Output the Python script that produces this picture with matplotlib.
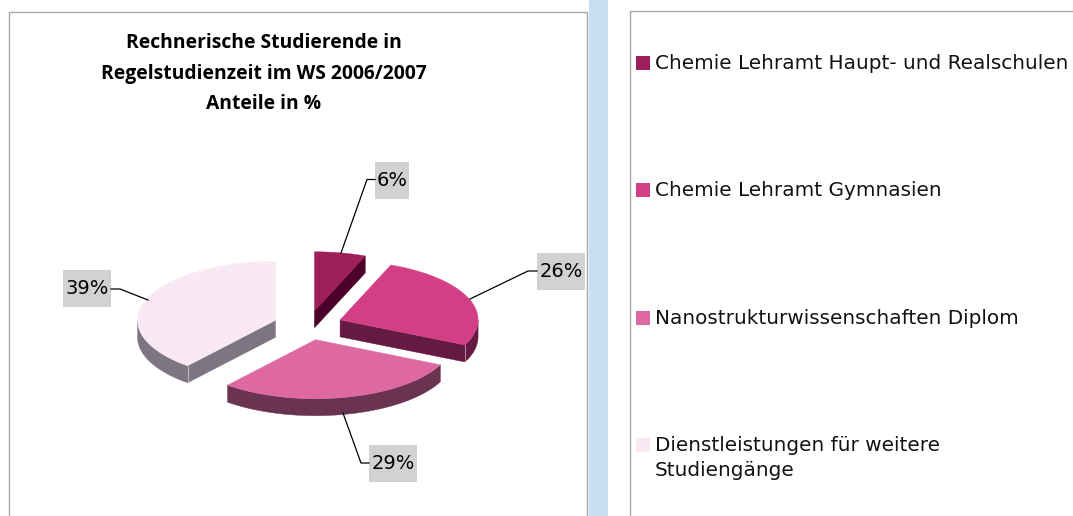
import numpy as np
import matplotlib
matplotlib.use("Agg")
import matplotlib.pyplot as plt
from matplotlib.patches import Polygon, Rectangle

# ---- data --------------------------------------------------------------
categories = [
    "Chemie Lehramt Haupt- und Realschulen",
    "Chemie Lehramt Gymnasien",
    "Nanostrukturwissenschaften Diplom",
    "Dienstleistungen für weitere\nStudiengänge",
]
shares = [6, 26, 29, 39]
title = "Rechnerische Studierende in\nRegelstudienzeit im WS 2006/2007\nAnteile in %"

top_colors = ["#9e1f5b", "#d33f84", "#de69a2", "#f9e9f3"]
side_colors = ["#4d0028", "#641a42", "#6a3351", "#7d7582"]

# ---- layout, in image pixels --------------------------------------------
W, H = 1073, 516
CX, CY = 308, 325.3
RX, RY = 138, 59
DEPTH = 17
EXPLODE = 0.25

label_boxes = [(375, 162, 34, 37), (537, 253, 48, 37), (369, 445, 48, 37), (63, 270, 48, 37)]
leaders = [
    [(341, 253), (367, 179.5), (375, 179.5)],
    [(470, 299), (528, 271), (537, 271)],
    [(343, 413), (361, 463), (369, 463)],
    [(148, 300), (120, 289), (111, 289)],
]
legend_y = [63, 190, 318, 445]

fig = plt.figure(figsize=(W / 100, H / 100), dpi=100)
ax = fig.add_axes([0, 0, 1, 1])
ax.set_xlim(0, W)
ax.set_ylim(H, 0)
ax.axis("off")

# panels
ax.add_patch(Rectangle((9, 11.5), 578, H, fc="white", ec="#a6a6aa", lw=1.0))
ax.add_patch(Rectangle((589, 0), 19, H, fc="#c9dff4", ec="none"))
ax.add_patch(Rectangle((629.5, 10.5), W, H, fc="white", ec="#a6a6aa", lw=1.0))

ax.text(264, 73.5, title, ha="center", va="center", fontsize=13.9, fontweight="bold",
        family="Open Sans", linespacing=1.7, color="black")

# ---- exploded 3d pie ----------------------------------------------------
edges = np.cumsum([0] + shares) / sum(shares) * 2 * np.pi
for i in range(len(shares)):
    a0, a1 = edges[i], edges[i + 1]
    mid = (a0 + a1) / 2
    ox = CX + EXPLODE * RX * np.sin(mid)
    oy = CY - EXPLODE * RY * np.cos(mid)
    th = np.linspace(a0, a1, 80)
    xs = np.r_[ox, ox + RX * np.sin(th)]
    ys = np.r_[oy, oy - RY * np.cos(th)]

    # boundary runs clockwise, so edges going left face the viewer
    n = len(xs)
    visible = [j for j in range(n) if xs[(j + 1) % n] - xs[j] < -1e-9]
    chain = visible + [(visible[-1] + 1) % n]
    band = np.r_[np.c_[xs[chain], ys[chain]], np.c_[xs[chain], ys[chain] + DEPTH][::-1]]
    ax.add_patch(Polygon(band, fc=side_colors[i], ec=side_colors[i], lw=0.3, zorder=3))
    for corner in (1, n - 1):
        if corner in visible and (corner - 1) in visible:
            ax.plot([xs[corner]] * 2, [ys[corner], ys[corner] + DEPTH], color="white",
                    lw=0.6, alpha=0.6, zorder=3.5)
    ax.add_patch(Polygon(np.c_[xs, ys], fc=top_colors[i], ec=top_colors[i], lw=0.3, zorder=4))

# ---- data labels --------------------------------------------------------
for val, box, pts in zip(shares, label_boxes, leaders):
    x, y, w, h = box
    ax.add_patch(Rectangle((x, y), w, h, fc="#d2d2d4", ec="none", zorder=5))
    ax.plot(*zip(*pts), color="black", lw=0.9, zorder=5)
    ax.text(x + w / 2, y + h / 2, f"{val}%", ha="center", va="center", fontsize=14,
            color="black", zorder=6)

# ---- legend -------------------------------------------------------------
for cat, color, y in zip(categories, top_colors, legend_y):
    ax.add_patch(Rectangle((636, y - 7), 14, 14, fc=color, ec="none"))
    ax.text(655, y - 9, cat, ha="left", va="top", fontsize=14.4, color="#111111",
            linespacing=1.4, family="DejaVu Sans")

fig.savefig("out.png", dpi=100)
